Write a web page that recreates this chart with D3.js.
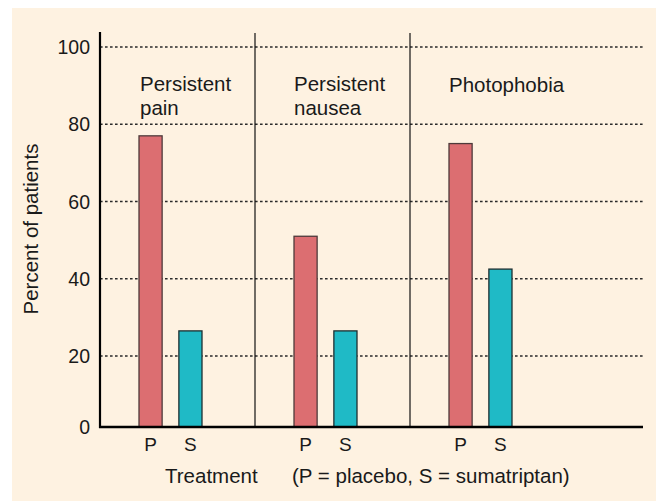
<!DOCTYPE html>
<html>
<head>
<meta charset="utf-8">
<script src="https://cdn.jsdelivr.net/npm/d3@7"></script>
<style>
  html, body { margin: 0; padding: 0; background: #ffffff; }
  svg { display: block; }
  text { font-family: "Liberation Sans", Arial, Helvetica, sans-serif; fill: #1a1a1a; }
</style>
</head>
<body>
<svg id="chart" width="658" height="501"></svg>
<script>
// ---- data ----
const categories = ["Persistent pain", "Persistent nausea", "Photophobia"];
const categoryLines = [["Persistent", "pain"], ["Persistent", "nausea"], ["Photophobia"]];
const treatments = ["P", "S"];
const placeboValues = [77, 51, 75];
const sumatriptanValues = [26.5, 26.5, 42.5];
const yTicks = [0, 20, 40, 60, 80, 100];
const yAxisTitle = "Percent of patients";
const xAxisTitle = "Treatment";
const xAxisNote = "(P = placebo, S = sumatriptan)";

// ---- layout ----
const W = 658, H = 501;
const colors = { P: "#dc6e71", S: "#1fbac6" };
const svg = d3.select("#chart");

svg.append("rect").attr("x", 12).attr("y", 8).attr("width", 644).attr("height", 493)
  .attr("fill", "#fef2e1");

const xLeft = 100, xRight = 643;
const y = d3.scaleLinear().domain([0, 20, 100]).range([427, 356, 47]);
const xGroup = d3.scaleBand().domain(categories).range([xLeft, 565]).padding(0);
const xInner = d3.scaleBand().domain(treatments).range([39, 102]).paddingInner(0.42).paddingOuter(0);

// gridlines
svg.append("g").selectAll("line").data(yTicks.filter(d => d > 0)).join("line")
  .attr("x1", xLeft).attr("x2", xRight)
  .attr("y1", d => y(d)).attr("y2", d => y(d))
  .attr("stroke", "#2a2a2a").attr("stroke-width", 1.3).attr("stroke-dasharray", "2.6,2.4");

// group dividers
svg.append("g").selectAll("line").data(categories.slice(1)).join("line")
  .attr("x1", d => xGroup(d)).attr("x2", d => xGroup(d))
  .attr("y1", 33).attr("y2", y(0))
  .attr("stroke", "#111").attr("stroke-width", 1.2);

// bars
const barData = [];
categories.forEach((c, i) => {
  barData.push({ cat: c, t: "P", v: placeboValues[i] });
  barData.push({ cat: c, t: "S", v: sumatriptanValues[i] });
});
svg.append("g").selectAll("rect").data(barData).join("rect")
  .attr("x", d => xGroup(d.cat) + xInner(d.t))
  .attr("width", xInner.bandwidth())
  .attr("y", d => y(d.v))
  .attr("height", d => y(0) - y(d.v))
  .attr("fill", d => colors[d.t])
  .attr("stroke", d => d.t === "P" ? "#4e3a3a" : "#1e2e30")
  .attr("stroke-width", 1.3);

// axes lines
svg.append("line").attr("x1", xLeft).attr("x2", xLeft).attr("y1", 32).attr("y2", y(0) + 1)
  .attr("stroke", "#000").attr("stroke-width", 2.2);
svg.append("line").attr("x1", xLeft - 1).attr("x2", xRight).attr("y1", y(0)).attr("y2", y(0))
  .attr("stroke", "#000").attr("stroke-width", 2.4);

// y tick labels
svg.append("g").selectAll("text").data(yTicks).join("text")
  .attr("x", 90).attr("y", d => y(d))
  .attr("dy", "0.36em")
  .attr("text-anchor", "end")
  .attr("font-size", 19.5)
  .text(d => d);

// x tick labels (P / S)
svg.append("g").selectAll("text").data(barData).join("text")
  .attr("x", d => xGroup(d.cat) + xInner(d.t) + xInner.bandwidth() / 2)
  .attr("y", 451)
  .attr("text-anchor", "middle")
  .attr("font-size", 19)
  .text(d => d.t);

// category labels
categories.forEach((c, i) => {
  const t = svg.append("text")
    .attr("x", xGroup(c) + xInner("P") + (i === 0 ? 1 : 0))
    .attr("y", i === 2 ? 92 : 91)
    .attr("font-size", 20.5);
  categoryLines[i].forEach((ln, j) => {
    t.append("tspan").attr("x", xGroup(c) + xInner("P") + (i === 0 ? 1 : 0))
      .attr("dy", j === 0 ? 0 : 24).text(ln);
  });
});

// axis titles
svg.append("text")
  .attr("transform", "translate(38,229) rotate(-90)")
  .attr("text-anchor", "middle")
  .attr("font-size", 20.5)
  .text(yAxisTitle);

svg.append("text").attr("x", 165).attr("y", 483).attr("font-size", 20.5).text(xAxisTitle);
svg.append("text").attr("x", 292).attr("y", 483).attr("font-size", 20.5).text(xAxisNote);
</script>
</body>
</html>
